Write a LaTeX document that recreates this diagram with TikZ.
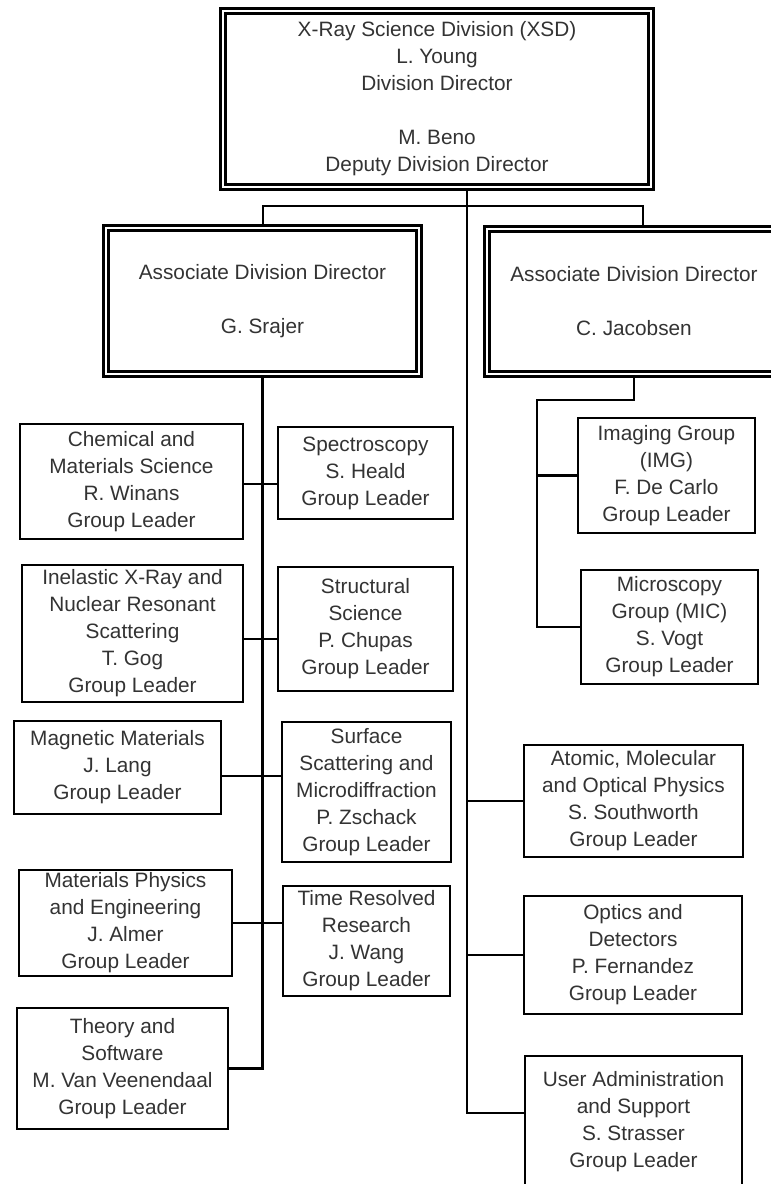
\documentclass[tikz,border=0pt]{standalone}
\usepackage{fontspec}
\setmainfont{Liberation Sans}
\usepackage{tikz}

\begin{document}
\begin{tikzpicture}[x=1pt, y=-1pt,
    grpbox/.style={draw, line width=2.6pt, inner sep=0pt, align=center, text=black!80,
      font=\fontsize{20.8}{27}\selectfont},
    dirbox/.style={grpbox, line width=2.6pt, double=white, double distance=2.4pt},
    wire/.style={line width=2.4pt}]
  \fill[white] (0,0) rectangle (771,1184);
  \useasboundingbox (0,0) rectangle (771,1184);

  % directors
  \node[dirbox, minimum width=428.4pt, minimum height=176.4pt] (xsd) at (437,99)
    {X-Ray Science Division (XSD)\\ L. Young\\ Division Director\\[27pt] M. Beno\\ Deputy Division Director};
  \node[dirbox, minimum width=313.4pt, minimum height=146.4pt] (srajer) at (262.5,301)
    {Associate Division Director\\[27pt] G. Srajer};
  \node[dirbox, minimum width=294.4pt, minimum height=145.4pt] (jacob) at (634,301.5)
    {Associate Division Director\\[27pt] C. Jacobsen};

  % groups under G. Srajer
  \node[grpbox, minimum width=223pt, minimum height=115pt] (chem) at (131.5,481.5)
    {Chemical and\\ Materials Science\\ R. Winans\\ Group Leader};
  \node[grpbox, minimum width=175pt, minimum height=92pt] (spec) at (365.5,473)
    {Spectroscopy\\ S. Heald\\ Group Leader};
  \node[grpbox, minimum width=221pt, minimum height=137pt] (inel) at (132.5,633.5)
    {Inelastic X-Ray and\\ Nuclear Resonant\\ Scattering\\ T. Gog\\ Group Leader};
  \node[grpbox, minimum width=175pt, minimum height=124pt] (struct) at (365.5,629)
    {Structural\\ Science\\ P. Chupas\\ Group Leader};
  \node[grpbox, minimum width=207pt, minimum height=93pt] (magn) at (117.5,767.5)
    {Magnetic Materials\\ J. Lang\\ Group Leader};
  \node[grpbox, minimum width=169pt, minimum height=140pt] (surf) at (366.5,792)
    {Surface\\ Scattering and\\ Microdiffraction\\ P. Zschack\\ Group Leader};
  \node[grpbox, minimum width=213pt, minimum height=106pt] (matphys) at (125.5,923)
    {Materials Physics\\ and Engineering\\ J. Almer\\ Group Leader};
  \node[grpbox, minimum width=167pt, minimum height=110pt] (timeres) at (366.5,941)
    {Time Resolved\\ Research\\ J. Wang\\ Group Leader};
  \node[grpbox, minimum width=211pt, minimum height=121pt] (theory) at (122.5,1068.5)
    {Theory and\\ Software\\ M. Van Veenendaal\\ Group Leader};

  % groups under C. Jacobsen
  \node[grpbox, minimum width=177pt, minimum height=115pt] (img) at (666.5,475.5)
    {Imaging Group\\ (IMG)\\ F. De Carlo\\ Group Leader};
  \node[grpbox, minimum width=177pt, minimum height=114pt] (micro) at (669.5,627)
    {Microscopy\\ Group (MIC)\\ S. Vogt\\ Group Leader};

  % groups under the division
  \node[grpbox, minimum width=219pt, minimum height=112pt] (amo) at (633.5,801)
    {Atomic, Molecular\\ and Optical Physics\\ S. Southworth\\ Group Leader};
  \node[grpbox, minimum width=218pt, minimum height=118pt] (optics) at (633,955)
    {Optics and\\ Detectors\\ P. Fernandez\\ Group Leader};
  \node[grpbox, minimum width=217pt, minimum height=132pt] (user) at (633.5,1122)
    {User Administration\\ and Support\\ S. Strasser\\ Group Leader};

  \coordinate (busL) at (263,206);
  \coordinate (busR) at (643,206);
  \coordinate (trunk) at (467,1113);
  \coordinate (jbend) at (537,400);

  \draw[wire] (srajer.north -| busL) -- (busL) -- (busR) -- (jacob.north -| busR);
  \draw[wire] (xsd.south -| trunk) -- (trunk) -- (trunk -| user.west);
  \draw[wire] (amo.west -| trunk) -- (amo.west);
  \draw[wire] (optics.west -| trunk) -- (optics.west);

  \draw[wire] (srajer.south) |- (theory.east);
  \draw[wire] (chem.east) ++(0,2.5) -- (spec.west |- 0,484);
  \draw[wire] ([yshift=-5.5pt]inel.east) -- ([yshift=-5.5pt]inel.east -| struct.west);
  \draw[wire] ([yshift=-8.5pt]magn.east) -- ([yshift=-8.5pt]magn.east -| surf.west);
  \draw[wire] (matphys.east) -- (matphys.east -| timeres.west);

  \draw[wire] (jacob.south) |- (jbend) |- (micro.west);
  \draw[wire] (img.west) -- (img.west -| jbend);
\end{tikzpicture}
\end{document}
